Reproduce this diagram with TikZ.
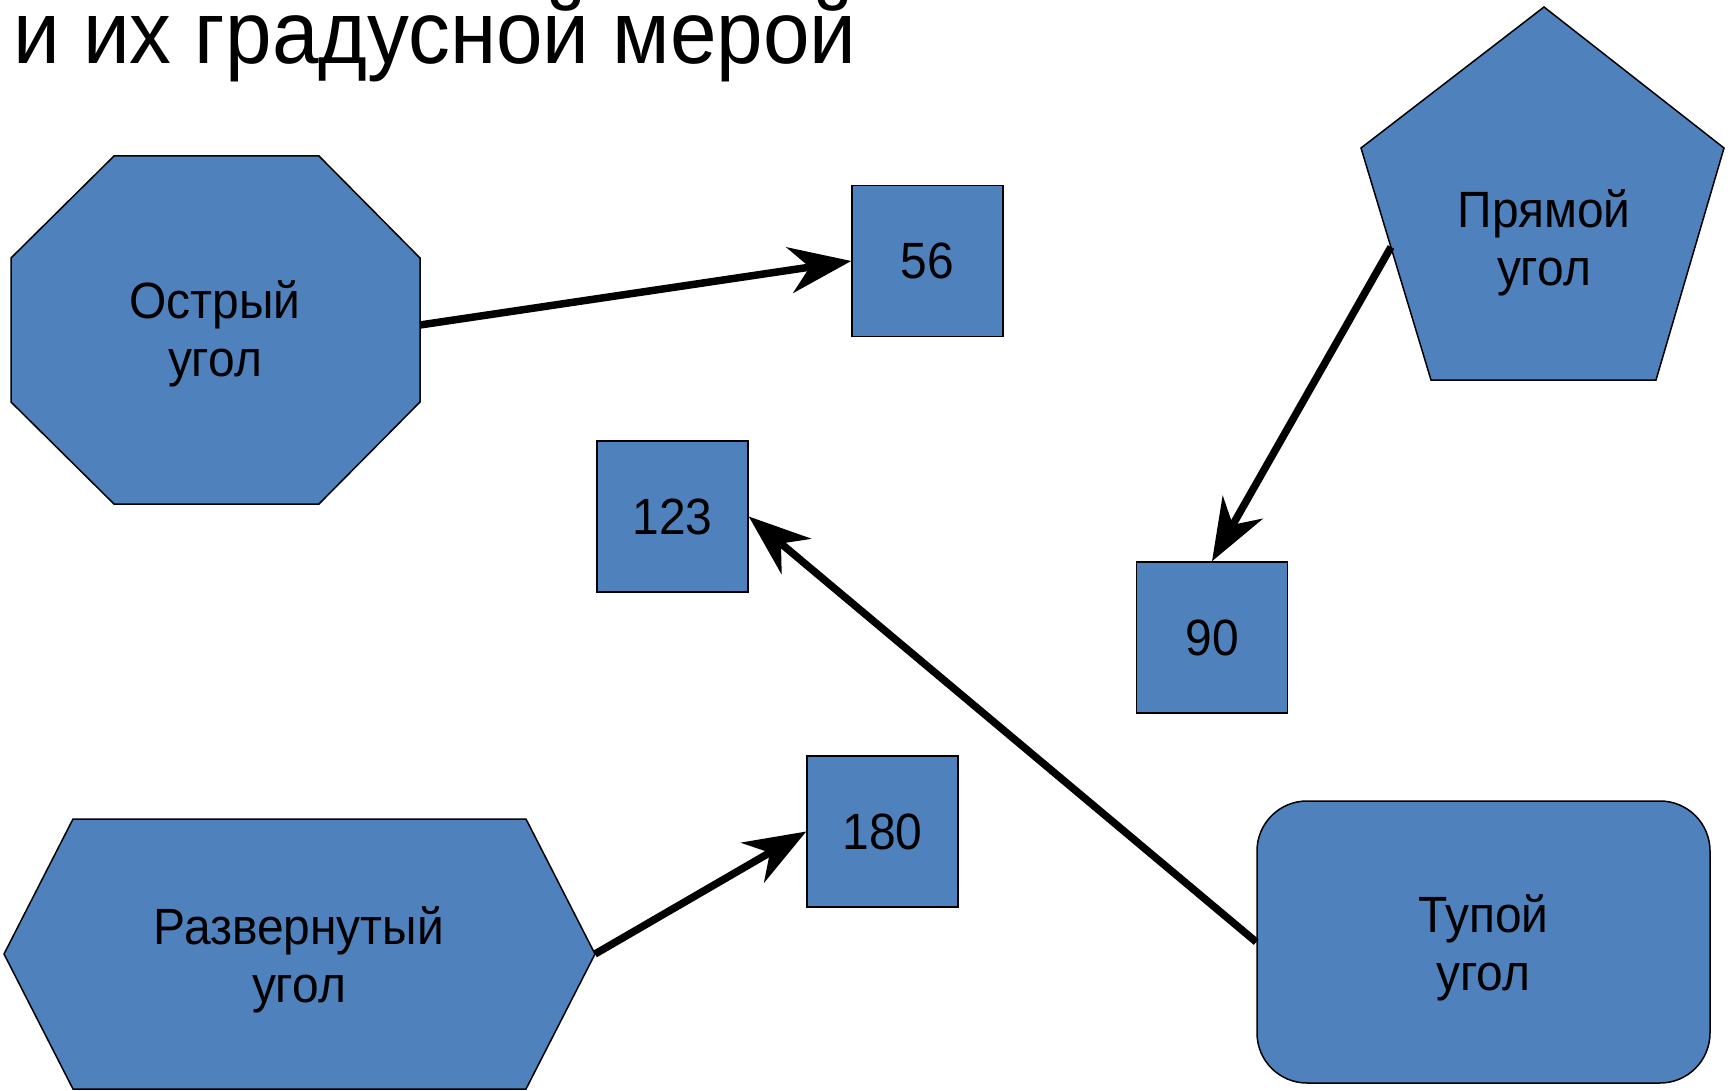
\documentclass[tikz,border=0pt]{standalone}
\usepackage{fontspec}
\setmainfont{Liberation Sans}[FakeStretch=0.94]
\usetikzlibrary{arrows.meta}
\definecolor{fillblue}{HTML}{4F81BD}
\begin{document}
\begin{tikzpicture}[x=1pt,y=-1pt,
  shp/.style={fill=fillblue, draw=black, line width=1.5pt},
  lbl/.style={font=\fontsize{51}{58}\selectfont, align=center, text=black, inner sep=0pt},
  numbox/.style={shp, minimum width=151pt, minimum height=151pt, inner sep=0pt, font=\fontsize{51}{58}\selectfont},
  roundbox/.style={shp, rounded corners=50pt, minimum width=453pt, minimum height=282pt, inner sep=0pt},
  conn/.style={line width=7.5pt, -{Stealth[length=62pt,width=46pt,inset=20pt]}}]
\useasboundingbox (0,0) rectangle (1730,1091);
% title
\node[anchor=base west, inner sep=0pt, font=\fontsize{89}{99}\selectfont] (title) at (13,64) {и их градусной мерой};
% octagon
\draw[shp] (114,156) -- (319,156) -- (420,258) -- (420,402) -- (319,504) -- (114,504) -- (11,402) -- (11,258) -- cycle;
\node[lbl] (acute) at (215,334) {Острый\\угол};
\coordinate (acuteE) at (420,325);
% pentagon
\draw[shp] (1544,7) -- (1724,148) -- (1656,380) -- (1431,380) -- (1361,148) -- cycle;
\node[lbl] (right) at (1544,243) {Прямой\\угол};
\coordinate (rightW) at (1391,247);
% hexagon
\draw[shp] (4,954) -- (73,819) -- (526,819) -- (595,954) -- (526,1089) -- (73,1089) -- cycle;
\node[lbl] (straight) at (299,960) {Развернутый\\угол};
\coordinate (straightE) at (595,954);
% rounded rectangle
\node[roundbox] (obtuse) at (1483.5,942) {};
\node[lbl] (obtuselbl) at (1483.5,948) {Тупой\\угол};
% number boxes
\node[numbox] (b56) at (927.5,261) {56};
\node[numbox] (b123) at (672.5,516.5) {123};
\node[numbox] (b90) at (1212,637.5) {90};
\node[numbox] (b180) at (882.5,831.5) {180};
% connectors
\draw[conn] (acuteE) -- (b56.west);
\draw[conn] (rightW) -- (b90.north);
\draw[conn] (obtuse.west) -- (b123.east);
\draw[conn] (straightE) -- (b180.west);
\end{tikzpicture}
\end{document}
